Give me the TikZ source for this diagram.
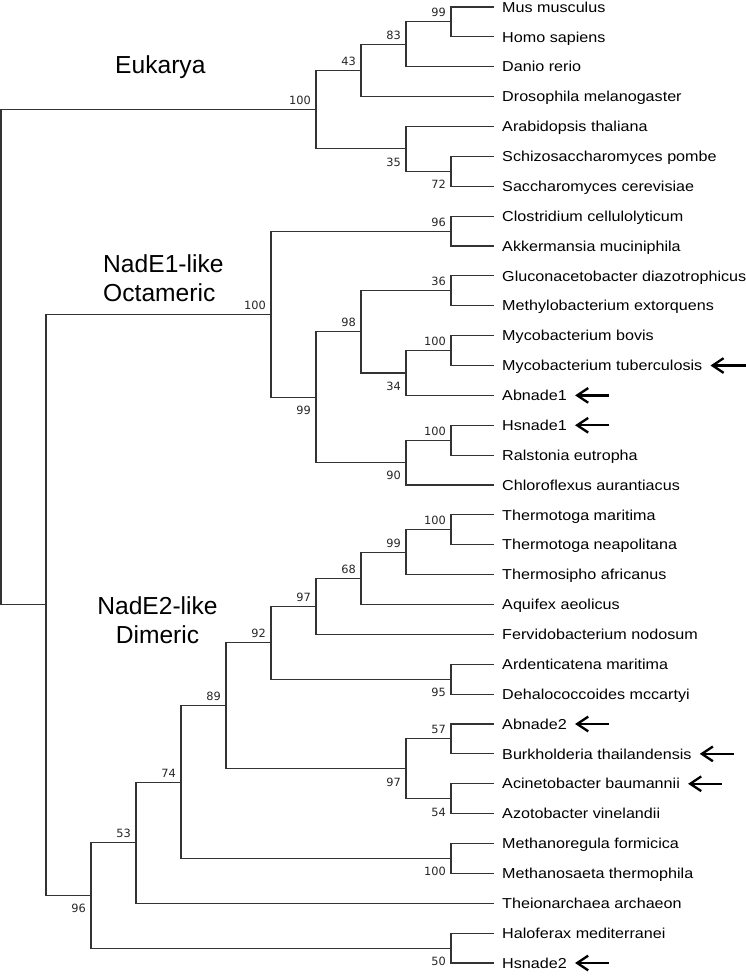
\documentclass[tikz,border=0pt]{standalone}
\usepackage{fontspec}
\setmainfont{Liberation Sans}
\newfontfamily\leaffont[FakeStretch=1.12]{Liberation Sans}
\newfontfamily\bootfont{DejaVu Sans}
\usetikzlibrary{arrows.meta, calc}

% one bracket: coordinate at the level, halfway between its two children
\newcommand{\clade}[4]{%
  \coordinate (#1-m) at ($(#3)!0.5!(#4)$);
  \coordinate (#1) at (#2 |- #1-m);
  \draw[branch] (#3) -| (#1) |- (#4);}
% bootstrap value, up or down of the incoming branch
\newcommand{\boot}[3]{\node[boot#1] (bs-#2) at (#2) {#3};}

\begin{document}
\begin{tikzpicture}[x=0.03cm, y=-0.03cm,
  branch/.style={draw=black!80, line width=0.9pt},
  leaf/.style={anchor=west, inner xsep=0.24cm, inner ysep=0pt, text height=8.8pt, text depth=0pt,
    font=\leaffont\fontsize{12.3}{14}\selectfont},
  bootlabel/.style={anchor=base east, inner sep=0pt, xshift=-0.15cm, text=black!85,
    font=\bootfont\fontsize{9.7}{11}\selectfont},
  bootup/.style={bootlabel, yshift=0.15cm},
  bootdown/.style={bootlabel, yshift=-0.52cm},
  cladename/.style={inner sep=0pt, font=\fontsize{21}{25.5}\selectfont},
  pointer/.style={{Straight Barb[length=0.33cm, width=0.44cm]}-, line width=0.07cm}]

\useasboundingbox (0,0) rectangle (745,978);

% =================================================================================
% levels and leaves
% =================================================================================
\foreach \k in {0,...,10}
  \coordinate (L\k) at ({1+45*\k},0);

\foreach \nm/\txt [count=\i from 0] in {
  mus/Mus musculus, homo/Homo sapiens, danio/Danio rerio, dros/Drosophila melanogaster,
  arab/Arabidopsis thaliana, schizo/Schizosaccharomyces pombe, sacch/Saccharomyces cerevisiae,
  clost/Clostridium cellulolyticum, akk/Akkermansia muciniphila,
  gluc/Gluconacetobacter diazotrophicus, methylo/Methylobacterium extorquens,
  mbov/Mycobacterium bovis, mtb/Mycobacterium tuberculosis, abn1/Abnade1,
  hsn1/Hsnade1, ralst/Ralstonia eutropha, chloro/Chloroflexus aurantiacus,
  tmar/Thermotoga maritima, tnea/Thermotoga neapolitana, tafr/Thermosipho africanus,
  aqui/Aquifex aeolicus, ferv/Fervidobacterium nodosum, arden/Ardenticatena maritima,
  dehal/Dehalococcoides mccartyi, abn2/Abnade2, burk/Burkholderia thailandensis,
  acin/Acinetobacter baumannii, azot/Azotobacter vinelandii,
  mreg/Methanoregula formicica, msae/Methanosaeta thermophila,
  theio/Theionarchaea archaeon, halo/Haloferax mediterranei, hsn2/Hsnade2}
  \node[leaf] (\nm) at (494,{7+29.875*\i}) {\txt};

% =================================================================================
% Eukarya
% =================================================================================
\clade{e99}{L10}{mus.west}{homo.west}
\clade{e83}{L9}{e99}{danio.west}
\clade{e43}{L8}{e83}{dros.west}
\clade{e72}{L10}{schizo.west}{sacch.west}
\clade{e35}{L9}{arab.west}{e72}
\clade{euk}{L7}{e43}{e35}

% =================================================================================
% NadE1-like, octameric
% =================================================================================
\clade{o96}{L10}{clost.west}{akk.west}
\clade{o36}{L10}{gluc.west}{methylo.west}
\clade{omyc}{L10}{mbov.west}{mtb.west}
\clade{o34}{L9}{omyc}{abn1.west}
\clade{o98}{L8}{o36}{o34}
\clade{ohs}{L10}{hsn1.west}{ralst.west}
\clade{o90}{L9}{ohs}{chloro.west}
\clade{o99}{L7}{o98}{o90}
\clade{oct}{L6}{o96}{o99}

% =================================================================================
% NadE2-like, dimeric
% =================================================================================
\clade{dtm}{L10}{tmar.west}{tnea.west}
\clade{d99}{L9}{dtm}{tafr.west}
\clade{d68}{L8}{d99}{aqui.west}
\clade{d97}{L7}{d68}{ferv.west}
\clade{d95}{L10}{arden.west}{dehal.west}
\clade{d92}{L6}{d97}{d95}
\clade{d57}{L10}{abn2.west}{burk.west}
\clade{d54}{L10}{acin.west}{azot.west}
\clade{d97b}{L9}{d57}{d54}
\clade{d89}{L5}{d92}{d97b}
\clade{dmet}{L10}{mreg.west}{msae.west}
\clade{d74}{L4}{d89}{dmet}
\clade{d53}{L3}{d74}{theio.west}
\clade{d50}{L10}{halo.west}{hsn2.west}
\clade{dim}{L2}{d53}{d50}

\clade{bac}{L1}{oct}{dim}
\clade{root}{L0}{euk}{bac}

% =================================================================================
% bootstrap values
% =================================================================================
\boot{up}{e99}{99}   \boot{up}{e83}{83}   \boot{up}{e43}{43}
\boot{down}{e72}{72} \boot{down}{e35}{35} \boot{up}{euk}{100}

\boot{up}{o96}{96}   \boot{up}{o36}{36}   \boot{up}{omyc}{100}
\boot{down}{o34}{34} \boot{up}{o98}{98}   \boot{up}{ohs}{100}
\boot{down}{o90}{90} \boot{down}{o99}{99} \boot{up}{oct}{100}

\boot{up}{dtm}{100}  \boot{up}{d99}{99}   \boot{up}{d68}{68}
\boot{up}{d97}{97}   \boot{down}{d95}{95} \boot{up}{d92}{92}
\boot{up}{d57}{57}   \boot{down}{d54}{54} \boot{down}{d97b}{97}
\boot{up}{d89}{89}   \boot{down}{dmet}{100}
\boot{up}{d74}{74}   \boot{up}{d53}{53}   \boot{down}{d50}{50}
\boot{down}{dim}{96}

% =================================================================================
% group names and arrows
% =================================================================================
\node[cladename, anchor=base west] (eukarya) at (115,73) {Eukarya};
\node[cladename, anchor=north west, align=left] (nade1) at (103,254) {NadE1-like\\Octameric};
\node[cladename, anchor=north, align=center] (nade2) at (157.5,596) {NadE2-like\\Dimeric};

\foreach \nm/\len in {mtb/40, abn1/34, hsn1/34, abn2/34, burk/34, acin/34, hsn2/34}
  \draw[pointer] (\nm.east) -- ++(\len,0);

\end{tikzpicture}
\end{document}
